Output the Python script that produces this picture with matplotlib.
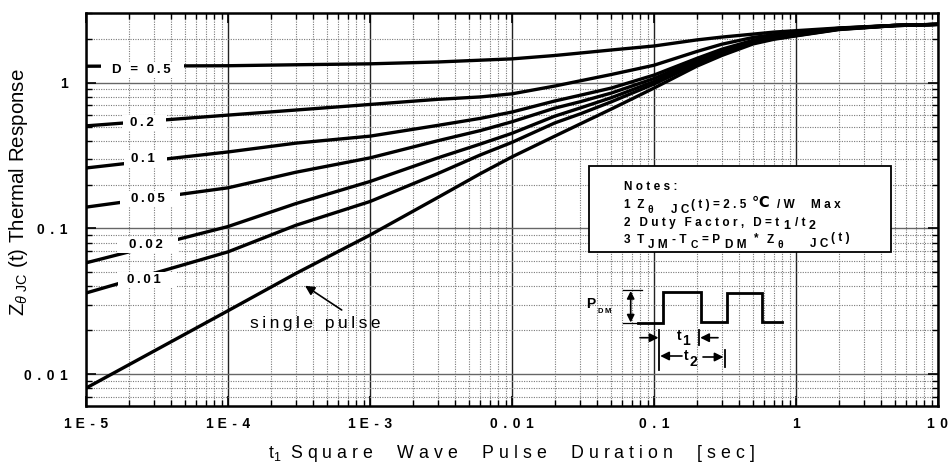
import numpy as np
import matplotlib
matplotlib.use("Agg")
import matplotlib.pyplot as plt
from matplotlib.patches import Rectangle
from matplotlib.ticker import LogLocator, NullFormatter, FixedLocator

# ---------------- data ----------------
t_sec = [1e-5, 1e-4, 3e-4, 1e-3, 3e-3, 6e-3, 1e-2, 2e-2, 3e-2, 5e-2, 0.1, 0.2, 0.3, 0.5, 0.7, 1, 2, 5, 10]
z_d05 = [1.30, 1.31, 1.33, 1.35, 1.39, 1.43, 1.46, 1.54, 1.60, 1.68, 1.79, 1.97, 2.06, 2.16, 2.23, 2.28, 2.38, 2.48, 2.52]
z_d02 = [0.506, 0.60, 0.65, 0.71, 0.77, 0.80, 0.84, 0.95, 1.03, 1.14, 1.32, 1.64, 1.84, 2.05, 2.14, 2.21, 2.37, 2.48, 2.52]
z_d01 = [0.26, 0.335, 0.385, 0.43, 0.51, 0.57, 0.63, 0.75, 0.82, 0.92, 1.13, 1.47, 1.70, 1.96, 2.08, 2.17, 2.36, 2.48, 2.52]
z_d005 = [0.14, 0.19, 0.243, 0.305, 0.40, 0.47, 0.54, 0.67, 0.74, 0.85, 1.07, 1.43, 1.66, 1.93, 2.05, 2.15, 2.35, 2.48, 2.52]
z_d002 = [0.058, 0.103, 0.148, 0.21, 0.305, 0.38, 0.45, 0.59, 0.67, 0.79, 1.02, 1.39, 1.61, 1.90, 2.03, 2.13, 2.34, 2.47, 2.52]
z_d001 = [0.036, 0.069, 0.105, 0.153, 0.238, 0.32, 0.39, 0.53, 0.61, 0.74, 0.98, 1.35, 1.58, 1.88, 2.01, 2.11, 2.33, 2.47, 2.52]
z_single = [0.008, 0.0272, 0.049, 0.090, 0.163, 0.238, 0.31, 0.43, 0.52, 0.66, 0.92, 1.30, 1.54, 1.85, 1.99, 2.10, 2.32, 2.47, 2.52]
series = [z_d05, z_d02, z_d01, z_d005, z_d002, z_d001, z_single]

x_ticks = [1e-5, 1e-4, 1e-3, 1e-2, 1e-1, 1, 10]
x_tick_labels = ["1 E-5", "1 E-4", "1 E-3", "0.01", "0.1", "1", "10"]
y_ticks = [0.01, 0.1, 1]
y_tick_labels = ["0.01", "0.1", "1"]
curve_labels = ["D = 0.5", "0.2", "0.1", "0.05", "0.02", "0.01"]

# ---------------- style ----------------
FAM = ["Liberation Sans", "DejaVu Sans"]
plt.rcParams["font.family"] = FAM
plt.rcParams["mathtext.fontset"] = "custom"
plt.rcParams["mathtext.rm"] = "Liberation Sans"
plt.rcParams["mathtext.it"] = "Liberation Sans:italic"
plt.rcParams["mathtext.bf"] = "Liberation Sans:bold"

TS = "\u2009"   # thin space
HS = "\u200a"   # hair space


def spaced(s, sep=TS):
    return sep.join(s)


def tick_text(s):
    if " " in s:
        a, b = s.split(" ")
        return a + " " + spaced(b, TS + TS)
    return spaced(s, TS + TS)


W, H = 948, 466
fig = plt.figure(figsize=(W / 100, H / 100), dpi=100)
AX_L, AX_R, AX_T, AX_B = 86, 938, 12.7, 406
ax = fig.add_axes([AX_L / W, 1 - AX_B / H, (AX_R - AX_L) / W, (AX_B - AX_T) / H])


def A(xp, yp):
    """reference pixel -> axes fraction"""
    return ((xp - AX_L) / (AX_R - AX_L), (AX_B - yp) / (AX_B - AX_T))


ax.set_xscale("log")
ax.set_yscale("log")
ax.set_xlim(1e-5, 10)
ax.set_ylim(0.00603, 3.03)

for z in series:
    ax.plot(t_sec, z, color="black", lw=2.4, solid_capstyle="butt", solid_joinstyle="round", zorder=3)

# grid
ax.xaxis.set_major_locator(FixedLocator(x_ticks))
ax.yaxis.set_major_locator(FixedLocator(y_ticks))
ax.xaxis.set_minor_locator(LogLocator(base=10, subs=np.arange(2, 10)))
ax.yaxis.set_minor_locator(LogLocator(base=10, subs=np.arange(2, 10)))
ax.xaxis.set_minor_formatter(NullFormatter())
ax.yaxis.set_minor_formatter(NullFormatter())
ax.grid(True, which="minor", axis="both", color="#7a7a7a", lw=0.8, ls=(0, (1, 1.2)), zorder=1)
ax.grid(True, which="major", axis="x", color="#222222", lw=1.0, ls="-", zorder=1.5)
ax.grid(True, which="major", axis="y", color="#666666", lw=1.0, ls="-", zorder=1.5)
ax.set_axisbelow(True)

ax.set_xticks(x_ticks)
ax.set_xticklabels([tick_text(s) for s in x_tick_labels])
ax.set_yticks(y_ticks)
ax.set_yticklabels([tick_text(s) for s in y_tick_labels])
ax.tick_params(which="both", direction="in", top=True, right=True, color="black")
ax.tick_params(which="major", length=7, width=1.2)
ax.tick_params(which="minor", length=4.5, width=1.0)
ax.tick_params(axis="x", which="major", pad=8, labelsize=10)
ax.tick_params(axis="y", which="major", pad=13, labelsize=10)
for lab in ax.get_xticklabels() + ax.get_yticklabels():
    lab.set_fontweight("bold")
for sp in ax.spines.values():
    sp.set_linewidth(1.8)
    sp.set_zorder(6)

# axis labels
ax.set_xlabel(r"t$_{\mathregular{1}}$  " + "     ".join(" ".join(w) for w in "Square Wave Pulse Duration [sec]".split(" ")),
              fontsize=12.8)
ax.xaxis.set_label_coords(0.4995, A(0, 443)[1])
ax.set_ylabel(r"Z$_{\theta\,\,\mathregular{JC}}$ (t) Thermal Response", fontsize=14.8)
ax.yaxis.set_label_coords(A(30, 0)[0], A(0, 192.5)[1])

# curve labels with white gaps in the lines
label_pos = [(141, 70, 101, 184), (142.3, 123.3, 123, 166), (143.2, 159, 124, 167),
             (148, 199.3, 120, 180), (146.2, 245, 118, 178), (143.7, 280, 118, 177)]
for txt, (cx, cy, g0, g1) in zip(curve_labels, label_pos):
    x0, y0 = A(g0, cy + 8)
    x1, y1 = A(g1, cy - 8)
    ax.add_patch(Rectangle((x0, y0), x1 - x0, y1 - y0, transform=ax.transAxes,
                           fc="white", ec="none", zorder=4))
    ax.text(*A(cx, cy), spaced(txt), transform=ax.transAxes, ha="center", va="center",
            fontsize=9.5, fontweight="bold", zorder=5)

# single pulse annotation
ax.text(*A(250, 328), spaced("single pulse"), transform=ax.transAxes, ha="left",
        va="baseline", fontsize=12.5, zorder=5)
ax.annotate("", xy=A(305, 285.7), xytext=A(341.7, 310), xycoords="axes fraction",
            textcoords="axes fraction",
            arrowprops=dict(arrowstyle="-|>", mutation_scale=14, lw=1.2, color="black",
                            shrinkA=0, shrinkB=0), zorder=5)

# notes box
bx0, by0 = A(589, 252.3)
bx1, by1 = A(891, 166)
ax.add_patch(Rectangle((bx0, by0), bx1 - bx0, by1 - by0, transform=ax.transAxes,
                       fc="white", ec="black", lw=1.3, zorder=5))

renderer = fig.canvas.get_renderer()


def seg_line(x, y, segs):
    for s, dy, size, gap, kw in segs:
        kw = dict(kw)
        kw.setdefault("fontweight", "bold")
        t = fig.text(x / W, 1 - (y + dy) / H, s, fontsize=size, va="baseline", ha="left",
                     zorder=7, **kw)
        bb = t.get_window_extent(renderer)
        x = bb.x1 + gap


NB = 8.5
NS = TS + HS
WS = " " + NS + TS


def ns(s):
    return spaced(s, NS)


seg_line(624.5, 190, [(ns("Notes:"), 0, NB, 0, {})])
seg_line(624.5, 207.7, [
    (ns("1") + " " + NS + "Z", 0, NB, 3, {}),
    ("θ", 5, 7.5, 17, {}),
    (ns("JC"), 5, NB, 2, {}),
    (ns("(t)=2.5"), 0, NB, 5, {}),
    ("℃", -1, 10.5, 8, {"family": ["DejaVu Sans"]}),
    (ns("/W"), 0, NB, 16, {}),
    (ns("Max"), 0, NB, 0, {}),
])
seg_line(624.5, 226, [
    (ns("2") + WS + ns("Duty") + WS + ns("Factor,") + WS + ns("D=t"), 0, NB, 3.5, {}),
    ("1", 3, 9, 4.5, {}),
    (ns("/t"), 0, NB, 3.5, {}),
    ("2", 3, 9, 0, {}),
])
seg_line(624.5, 243.3, [
    (ns("3") + " " + NS + "T", 0, NB, 3.5, {}),
    (ns("JM"), 5, NB, 4.5, {}),
    (ns("-T"), 0, NB, 3.5, {}),
    ("C", 5, 7.5, 4.5, {}),
    (ns("=P"), 0, NB, 5, {}),
    (ns("DM"), 5, NB, 7, {}),
    ("*", -2, NB, 8, {}),
    ("Z", 0, NB, 3.5, {}),
    ("θ", 5, 7.5, 27, {}),
    (ns("JC"), 4, NB, 2.5, {}),
    (ns("(t)"), -2, NB, 0, {}),
])

# pulse diagram
def pline(xs, ys, lw=2.0):
    pts = [A(x, y) for x, y in zip(xs, ys)]
    ax.plot([p[0] for p in pts], [p[1] for p in pts], transform=ax.transAxes, color="black",
            lw=lw, solid_joinstyle="miter", clip_on=False, zorder=5)


pline([638.3, 663.3, 663.3, 701, 701, 726.7, 726.7, 761.7, 761.7, 781.7],
      [322.7, 322.7, 291.7, 291.7, 322, 322, 292.7, 292.7, 322, 322])
pline([623.3, 641.7], [290, 290], lw=0.9)
pline([623.3, 638.3], [323.3, 323.3], lw=0.9)
pline([659.3, 659.3], [330, 370], lw=1.3)
pline([699.3, 699.3], [330, 345], lw=1.3)
pline([725, 725], [350, 367], lw=1.3)


def arrow(x0, y0, x1, y1, style="-|>", ms=13):
    ax.annotate("", xy=A(x1, y1), xytext=A(x0, y0), xycoords="axes fraction",
                textcoords="axes fraction",
                arrowprops=dict(arrowstyle=style, mutation_scale=ms, lw=1.2, color="black",
                                shrinkA=0, shrinkB=0), zorder=6)


arrow(630.7, 291, 630.7, 322.5, style="<|-|>", ms=11)
arrow(640, 337.7, 658.5, 337.7)
arrow(718, 337.7, 700.2, 337.7)
arrow(682, 356, 660.2, 356)
arrow(703, 357, 723.5, 357)

fig.text(677 / W, 1 - 340 / H, "t", fontsize=10, fontweight="bold", va="baseline", ha="left")
fig.text(682.5 / W, 1 - 345 / H, "1", fontsize=10, fontweight="bold", va="baseline", ha="left")
fig.text(684 / W, 1 - 360 / H, "t", fontsize=10, fontweight="bold", va="baseline", ha="left")
fig.text(689.5 / W, 1 - 365.5 / H, "2", fontsize=10, fontweight="bold", va="baseline", ha="left")
fig.text(586 / W, 1 - 308.3 / H, "P", fontsize=10, fontweight="bold", va="baseline", ha="left")
fig.text(598 / W, 1 - 313 / H, spaced("DM"), fontsize=5.5, fontweight="bold", va="baseline", ha="left")

fig.savefig("out.png", dpi=100)
